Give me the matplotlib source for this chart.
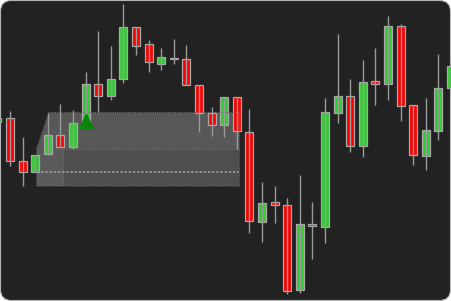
import matplotlib
matplotlib.use("Agg")
import matplotlib.pyplot as plt
from matplotlib.patches import FancyBboxPatch, Polygon
import numpy as np

# OHLC (arbitrary price units)
opens  = [179, 182.7, 140.3, 129.3, 146.7, 166, 154.3, 177.7, 217, 205.3,
          221.7, 273.7, 257, 237.3, 242.8, 241.7, 215.7, 187.7, 175.7, 203.7,
          169.3, 78.7, 98.7, 96, 11, 77, 74.3, 188.3, 204.7, 155,
          220.3, 216.7, 275, 195.7, 145.5, 170.3, 213]
closes = [183, 140, 129.3, 145.7, 166, 154.3, 177.7, 217, 205.3, 222,
          273.7, 255.3, 238.7, 243.7, 242, 216.3, 187.7, 175.7, 203.7, 170.3,
          80, 97.7, 96, 10, 77, 75, 188.7, 204.7, 155, 219.3,
          216.7, 275, 195.5, 145.7, 171.5, 213, 235]
highs  = [185, 190, 163.7, 145.7, 188, 197, 191, 228.7, 269.7, 255,
          297, 274, 261, 252.7, 262, 256, 215.7, 194.3, 203.7, 203.7,
          192, 119.3, 115, 102.7, 126, 98.7, 203.3, 267, 222, 241,
          252.7, 285, 277, 195.7, 203.5, 247, 246]
lows   = [177, 135.3, 115, 129.3, 146, 154.3, 151.7, 177, 188.7, 201,
          217.7, 246, 228.7, 231, 237, 216.3, 169.3, 165.3, 163.7, 152,
          67.7, 59.3, 77.7, 6.7, 8.3, 41.7, 58.3, 178.3, 149.3, 144.3,
          196.3, 201.3, 180.5, 136, 131, 161, 209]

signal_bar = 7          # buy arrow under this candle
signal_price = 180

# zone box: x from bar 3.1 to 19.2, price levels
box_x = [3.12, 4.09, 5.21, 19.2]
box_top, box_mid, box_line, box_bot = 188.5, 152, 129.3, 115

fig = plt.figure(figsize=(4.51, 3.01), dpi=100)
fig.patch.set_facecolor("white")
bg = FancyBboxPatch((0.005, 0.005), 4.50, 3.00,
                    boxstyle="round,pad=0,rounding_size=0.11",
                    transform=fig.dpi_scale_trans,
                    facecolor="#222222", edgecolor="#b5b5b5", lw=0.8, zorder=-10)
fig.add_artist(bg)

ax = fig.add_axes([0, 0, 1, 1])
ax.set_facecolor("none")
ax.axis("off")

x0, x1, x2, x3 = box_x
ax.add_patch(Polygon([(x1, box_top), (x3, box_top), (x3, box_mid), (x0, box_mid)],
                     closed=True, facecolor="#585858", edgecolor="none"))
ax.add_patch(Polygon([(x0, box_mid), (x2, box_mid), (x2, box_bot), (x0, box_bot)],
                     closed=True, facecolor="#5a5a5a", edgecolor="none"))
ax.add_patch(Polygon([(x2, box_mid), (x3, box_mid), (x3, box_bot), (x2, box_bot)],
                     closed=True, facecolor="#4e4e4e", edgecolor="none"))
# box outline, dotted
dot = dict(color="#707070", lw=0.8, ls=(0, (1, 1)))
ax.plot([x0, x1, x3, x3, x0, x0], [box_mid, box_top, box_top, box_bot, box_bot, box_mid], **dot)
ax.plot([x2, x3], [box_mid, box_mid], **dot)
ax.plot([x2, x2], [box_mid, box_bot], **dot)
ax.plot([x0, x3], [box_line, box_line], color="#9a9a9a", lw=1.2, ls=(0, (1.5, 1)))

idx = np.arange(len(opens))
o = np.array(opens); c = np.array(closes)
up = c >= o
ax.vlines(idx, lows, highs, color="#9a9a9a", lw=1)
ax.bar(idx[up], (c - o)[up], bottom=o[up], width=0.63,
       color="#33cc33", edgecolor="#a8a8a8", lw=0.9)
ax.bar(idx[~up], (o - c)[~up], bottom=c[~up], width=0.63,
       color="#ff0000", edgecolor="#a8a8a8", lw=0.9)

ax.plot([signal_bar], [signal_price], marker="^", ms=10, color="#0a840a", mec="#0a840a")

ax.set_xlim(0.2063, 36.0)
ax.set_ylim(0, 301)

fig.savefig("out.png", dpi=100, facecolor=fig.get_facecolor())
